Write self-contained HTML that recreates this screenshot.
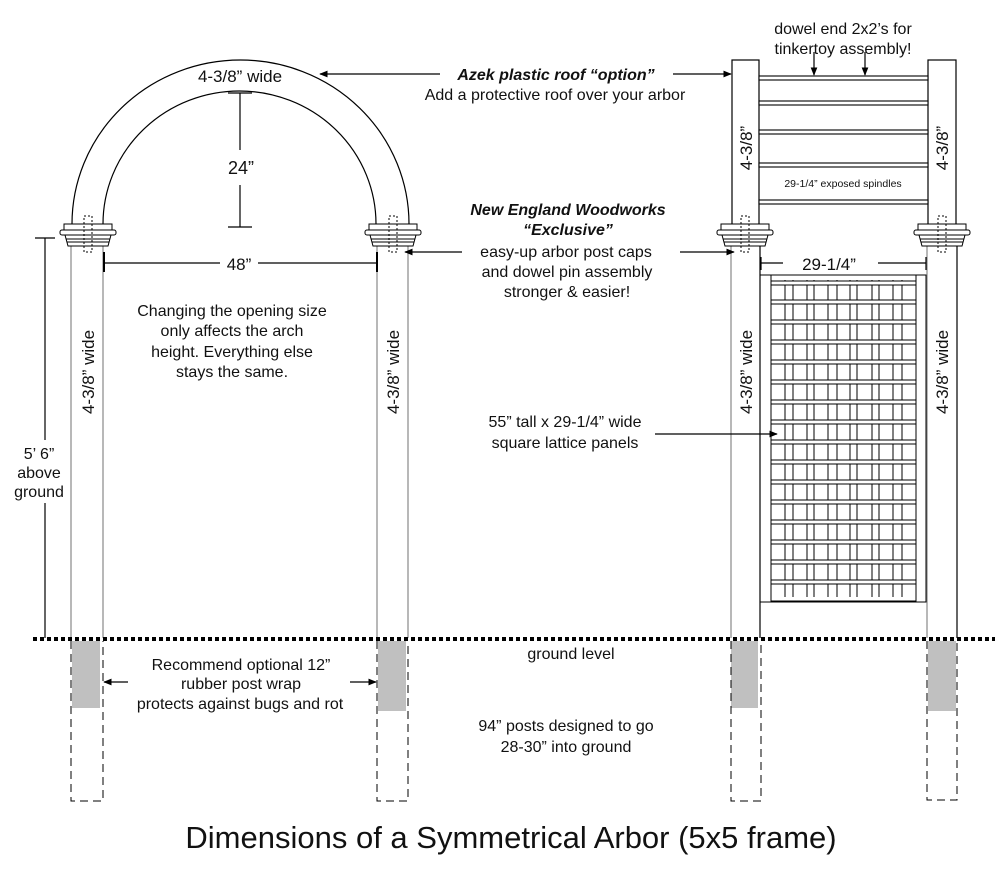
<!DOCTYPE html>
<html><head><meta charset="utf-8"><style>
html,body{margin:0;padding:0;background:#fff;}
svg{display:block;font-family:"Liberation Sans",sans-serif;}
</style></head><body>
<svg width="1000" height="875" viewBox="0 0 1000 875" xmlns="http://www.w3.org/2000/svg">
<defs>
<marker id="ar" viewBox="0 0 10 10" refX="9" refY="5" markerWidth="7" markerHeight="7" orient="auto-start-reverse"><path d="M0,1 L10,5 L0,9 z" fill="#000"/></marker>
<g id="cap">
<rect x="-24" y="0" width="48" height="6" fill="#fff" stroke="#000" stroke-width="1"/>
<rect x="-28" y="6" width="56" height="5" rx="2" fill="#fff" stroke="#000" stroke-width="1"/>
<path d="M-23,11 L23,11 L20,22 L-20,22 Z" fill="#fff" stroke="#000" stroke-width="1"/>
<line x1="-22" y1="15" x2="22" y2="15" stroke="#000"/>
<line x1="-21" y1="18" x2="21" y2="18" stroke="#000"/>
<rect x="-4" y="-8" width="8" height="36" fill="none" stroke="#000" stroke-dasharray="2,2"/>
</g>
</defs>
<g fill="none" stroke="#000" stroke-width="1.2">
<path d="M72,224 A168.5,164 0 0 1 409,224"/>
<path d="M103,224 A136.5,133 0 0 1 376,224"/>
<line x1="71" y1="246" x2="71" y2="638" stroke="#888"/>
<line x1="103" y1="246" x2="103" y2="638" stroke="#888"/>
<line x1="377" y1="246" x2="377" y2="638" stroke="#888"/>
<line x1="408" y1="246" x2="408" y2="638" stroke="#888"/>
<line x1="731" y1="246" x2="731" y2="638" stroke="#888"/>
<line x1="760" y1="246" x2="760" y2="638" stroke="#000"/>
<line x1="927" y1="246" x2="927" y2="638" stroke="#888"/>
<line x1="957" y1="246" x2="957" y2="638" stroke="#000"/>
<rect x="732" y="60" width="27" height="165"/>
<rect x="928" y="60" width="28" height="165"/>
</g>
<g fill="#fff" stroke="#000" stroke-width="1.1">
<rect x="759" y="76" width="169" height="4"/>
<rect x="759" y="101" width="169" height="4"/>
<rect x="759" y="130" width="169" height="4"/>
<rect x="759" y="163" width="169" height="4"/>
<rect x="759" y="200" width="169" height="4"/>
</g>
<use href="#cap" x="88" y="224"/>
<use href="#cap" x="393" y="224"/>
<use href="#cap" x="745" y="224"/>
<use href="#cap" x="942" y="224"/>
<g stroke="#000" stroke-width="1" fill="none">
<rect x="760" y="275" width="166" height="327"/>
<rect x="771" y="275" width="145" height="326"/>
<line x1="785" y1="280" x2="785" y2="597"/><line x1="793" y1="280" x2="793" y2="597"/>
<line x1="807" y1="280" x2="807" y2="597"/><line x1="814" y1="280" x2="814" y2="597"/>
<line x1="828" y1="280" x2="828" y2="597"/><line x1="837" y1="280" x2="837" y2="597"/>
<line x1="850" y1="280" x2="850" y2="597"/><line x1="857" y1="280" x2="857" y2="597"/>
<line x1="872" y1="280" x2="872" y2="597"/><line x1="879" y1="280" x2="879" y2="597"/>
<line x1="893" y1="280" x2="893" y2="597"/><line x1="902" y1="280" x2="902" y2="597"/>
</g>
<g fill="#fff" stroke="#000" stroke-width="1">
<rect x="771" y="281" width="145" height="4"/><rect x="771" y="300" width="145" height="4"/>
<rect x="771" y="320" width="145" height="4"/><rect x="771" y="340" width="145" height="4"/>
<rect x="771" y="360" width="145" height="4"/><rect x="771" y="380" width="145" height="4"/>
<rect x="771" y="400" width="145" height="4"/><rect x="771" y="420" width="145" height="4"/>
<rect x="771" y="440" width="145" height="4"/><rect x="771" y="460" width="145" height="4"/>
<rect x="771" y="480" width="145" height="4"/><rect x="771" y="500" width="145" height="4"/>
<rect x="771" y="520" width="145" height="4"/><rect x="771" y="540" width="145" height="4"/>
<rect x="771" y="560" width="145" height="4"/><rect x="771" y="580" width="145" height="4"/>
</g>
<line x1="33" y1="639" x2="995" y2="639" stroke="#000" stroke-width="4" stroke-dasharray="4,3"/>
<g fill="#c0c0c0">
<rect x="72" y="641" width="28" height="67"/>
<rect x="378" y="641" width="28" height="70"/>
<rect x="731" y="641" width="27" height="67"/>
<rect x="928" y="641" width="28" height="70"/>
</g>
<g fill="none" stroke="#000" stroke-width="1" stroke-dasharray="8,5">
<path d="M71,641 V801 H103 V641"/>
<path d="M377,641 V801 H408 V641"/>
<path d="M731,641 V801 H761 V641"/>
<path d="M927,641 V800 H957 V641"/>
</g>
<g stroke="#000" stroke-width="1.2" fill="none">
<line x1="240" y1="93" x2="240" y2="150"/><line x1="240" y1="185" x2="240" y2="227"/>
<line x1="228" y1="93" x2="252" y2="93"/><line x1="228" y1="227" x2="252" y2="227"/>
<line x1="45" y1="238" x2="45" y2="440"/><line x1="45" y1="503" x2="45" y2="638"/>
<line x1="35" y1="238" x2="55" y2="238"/>
<line x1="104" y1="263" x2="220" y2="263"/><line x1="258" y1="263" x2="377" y2="263"/>
<line x1="104" y1="252" x2="104" y2="272" stroke-width="2"/><line x1="377" y1="252" x2="377" y2="272" stroke-width="2"/>
<line x1="761" y1="263" x2="783" y2="263"/><line x1="878" y1="263" x2="926" y2="263"/>
<line x1="761" y1="257" x2="761" y2="270"/><line x1="926" y1="257" x2="926" y2="270"/>
<line x1="440" y1="74" x2="320" y2="74" marker-end="url(#ar)"/>
<line x1="673" y1="74" x2="731" y2="74" marker-end="url(#ar)"/>
<line x1="462" y1="252" x2="405" y2="252" marker-end="url(#ar)"/>
<line x1="680" y1="252" x2="734" y2="252" marker-end="url(#ar)"/>
<line x1="655" y1="434" x2="777" y2="434" marker-end="url(#ar)"/>
<line x1="128" y1="682" x2="104" y2="682" marker-end="url(#ar)"/>
<line x1="350" y1="682" x2="376" y2="682" marker-end="url(#ar)"/>
<line x1="814" y1="52" x2="814" y2="75" marker-end="url(#ar)"/>
<line x1="865" y1="52" x2="865" y2="75" marker-end="url(#ar)"/>
</g>
<g fill="#111" font-size="16" text-anchor="middle">
<text x="240" y="82" font-size="17">4-3/8” wide</text>
<text x="241" y="174" font-size="18">24”</text>
<text x="239" y="270" font-size="17">48”</text>
<text x="829" y="270" font-size="17">29-1/4”</text>
<text x="556" y="80" font-weight="bold" font-style="italic">Azek plastic roof “option”</text>
<text x="555" y="100">Add a protective roof over your arbor</text>
<text x="568" y="215" font-weight="bold" font-style="italic">New England Woodworks</text>
<text x="568" y="235" font-weight="bold" font-style="italic">“Exclusive”</text>
<text x="566" y="257">easy-up arbor post caps</text>
<text x="567" y="277">and dowel pin assembly</text>
<text x="567" y="297">stronger &amp; easier!</text>
<text x="843" y="34">dowel end 2x2’s for</text>
<text x="843" y="54">tinkertoy assembly!</text>
<text x="843" y="187" font-size="10.5">29-1/4” exposed spindles</text>
<text x="232" y="316">Changing the opening size</text>
<text x="232" y="336">only affects the arch</text>
<text x="232" y="357">height. Everything else</text>
<text x="232" y="377">stays the same.</text>
<text x="39" y="459">5’ 6”</text>
<text x="39" y="478">above</text>
<text x="39" y="497">ground</text>
<text x="565" y="427">55” tall x 29-1/4” wide</text>
<text x="565" y="448">square lattice panels</text>
<text x="571" y="659">ground level</text>
<text x="241" y="670">Recommend optional 12”</text>
<text x="241" y="689">rubber post wrap</text>
<text x="240" y="709">protects against bugs and rot</text>
<text x="566" y="731">94” posts designed to go</text>
<text x="566" y="752">28-30” into ground</text>
<text x="511" y="848" font-size="31">Dimensions of a Symmetrical Arbor (5x5 frame)</text>
<text transform="translate(94,372) rotate(-90)" font-size="17">4-3/8” wide</text>
<text transform="translate(399,372) rotate(-90)" font-size="17">4-3/8” wide</text>
<text transform="translate(752,372) rotate(-90)" font-size="17">4-3/8” wide</text>
<text transform="translate(948,372) rotate(-90)" font-size="17">4-3/8” wide</text>
<text transform="translate(752,148) rotate(-90)" font-size="17">4-3/8”</text>
<text transform="translate(948,148) rotate(-90)" font-size="17">4-3/8”</text>
</g>
</svg>
</body></html>
